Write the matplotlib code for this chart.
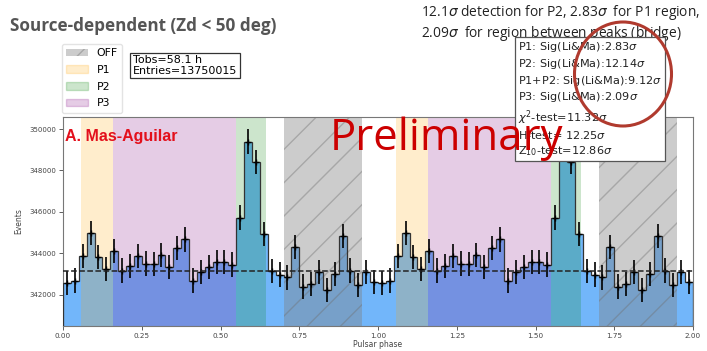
import numpy as np
import matplotlib
matplotlib.use("Agg")
import matplotlib.pyplot as plt
from matplotlib.patches import Patch, Ellipse

# counts per bin for one pulsar cycle (40 bins), the second cycle repeats it
counts_cycle = [
    342560, 342690, 343880, 345000, 343830, 343240, 344120, 343170, 343410, 343880,
    343510, 343480, 343910, 343330, 344260, 344680, 342690, 343120, 343360, 343590,
    343590, 343460, 345730, 349390, 348420, 344940, 343160, 342980, 342840, 344300,
    342400, 342530, 343110, 342240, 343010, 344840, 343170, 342480, 343090, 342630,
]
n_cycles = 2
bkg_level = 343150

# phase regions (one cycle)
regions = {
    "OFF": (0.70, 0.95),
    "P1": (0.056, 0.160),
    "P2": (0.550, 0.645),
    "P3": (0.160, 0.550),
}
region_colors = {"OFF": "gray", "P1": "orange", "P2": "green", "P3": "purple"}

xticks = [0.0, 0.25, 0.5, 0.75, 1.0, 1.25, 1.5, 1.75, 2.0]
yticks = [342000, 344000, 346000, 348000, 350000]

stats_lines = [
    r"P1: Sig(Li&Ma):2.83$\sigma$",
    r"P2: Sig(Li&Ma):12.14$\sigma$",
    r"P1+P2: Sig(Li&Ma):9.12$\sigma$",
    r"P3: Sig(Li&Ma):2.09$\sigma$",
    r"$\chi^2$-test=11.32$\sigma$",
    r"H-test= 12.25$\sigma$",
    r"Z$_{10}$-test=12.86$\sigma$",
]

counts = np.array(counts_cycle * n_cycles, dtype=float)
edges = np.linspace(0, n_cycles, len(counts) + 1)
centers = 0.5 * (edges[:-1] + edges[1:])

W, H = 707, 351
fig = plt.figure(figsize=(W / 100, H / 100), dpi=100)
ax = fig.add_axes([63 / W, 1 - 326 / H, 630 / W, 209 / H])

# histogram
ax.stairs(counts, edges, baseline=0, fill=True, color="#72b6fa", zorder=1)
ax.stairs(counts, edges, baseline=0, fill=False, color="#333333", lw=0.9, zorder=3)

# phase bands drawn on top
for c in range(n_cycles):
    for name, (lo, hi) in regions.items():
        if name == "OFF":
            ax.axvspan(c + lo, c + hi, facecolor="gray", edgecolor="#707070",
                       alpha=0.4, hatch="/", lw=0, zorder=2)
        else:
            ax.axvspan(c + lo, c + hi, color=region_colors[name], alpha=0.2,
                       lw=0, zorder=2)

ax.errorbar(centers, counts, yerr=np.sqrt(counts), fmt="+", color="black",
            ms=4, elinewidth=1.2, mew=1.0, zorder=4)
ax.axhline(bkg_level, color="#222222", ls="--", lw=1.1, zorder=5)

ax.set_xlim(0, n_cycles)
ax.set_ylim(340500, 350580)
ax.set_xticks(xticks)
ax.set_xticklabels([f"{t:.2f}" for t in xticks])
ax.set_yticks(yticks)
ax.tick_params(axis="x", labelsize=5.2, colors="#444444", length=3, width=0.6, pad=2)
ax.tick_params(axis="y", labelsize=5.0, colors="#444444", length=3, width=0.6, pad=2)
ax.set_xlabel("Pulsar phase", fontsize=5.5, color="#444444", labelpad=1)
ax.set_ylabel("Events", fontsize=5.5, color="#444444", labelpad=4)
for s in ax.spines.values():
    s.set_color("#777777")
    s.set_linewidth(0.8)

# legend and info boxes
handles = [
    Patch(facecolor="gray", edgecolor="#707070", alpha=0.4, hatch="/", lw=0, label="OFF"),
    Patch(color="orange", alpha=0.2, label="P1"),
    Patch(color="green", alpha=0.2, label="P2"),
    Patch(color="purple", alpha=0.2, label="P3"),
]
fig.legend(handles=handles, loc="upper left", bbox_to_anchor=(62 / W, 1 - 44 / H),
           fontsize=7.8, frameon=True, borderpad=0.4, labelspacing=0.62,
           handlelength=2.0, handletextpad=0.8, edgecolor="#dddddd", borderaxespad=0)

fig.text(133 / W, 1 - 65.5 / H, "Tobs=58.1 h\nEntries=13750015", fontsize=8,
         va="center", ha="left", linespacing=1.05,
         bbox=dict(boxstyle="square,pad=0.25", fc="white", ec="#333333", lw=0.9))

fig.text(518 / W, 1 - 99 / H, "\n".join(stats_lines), fontsize=8.1, va="center",
         ha="left", linespacing=1.28, color="#222222", zorder=5,
         bbox=dict(boxstyle="square,pad=0.28", fc="white", ec="#555555", lw=0.9))

# slide annotations
fig.text(10 / W, 1 - 26 / H, "Source-dependent (Zd < 50 deg)", fontsize=12.3,
         fontweight="bold", color="#555555", family="Open Sans", va="center")
fig.text(421 / W, 1 - 23 / H,
         "12.1$\\sigma$ detection for P2, 2.83$\\sigma$  for P1 region,\n"
         "2.09$\\sigma$  for region between peaks (bridge)",
         fontsize=9.9, color="#222222", family="Open Sans", va="center",
         linespacing=1.1)
fig.text(65 / W, 1 - 136 / H, "A. Mas-Aguilar", fontsize=11.5, fontweight="bold",
         color="#e3101c", family="Liberation Sans", va="center")
fig.text(330 / W, 1 - 139 / H, "Preliminary", fontsize=31.5, color="#cc0000",
         family="Open Sans", va="center", zorder=10)
fig.add_artist(Ellipse((623 / W, 1 - 74 / H), 97 / W, 104 / H,
                       transform=fig.transFigure, fill=False,
                       ec="#b03a2e", lw=2.2, zorder=11))

fig.savefig("out.png", dpi=100)
